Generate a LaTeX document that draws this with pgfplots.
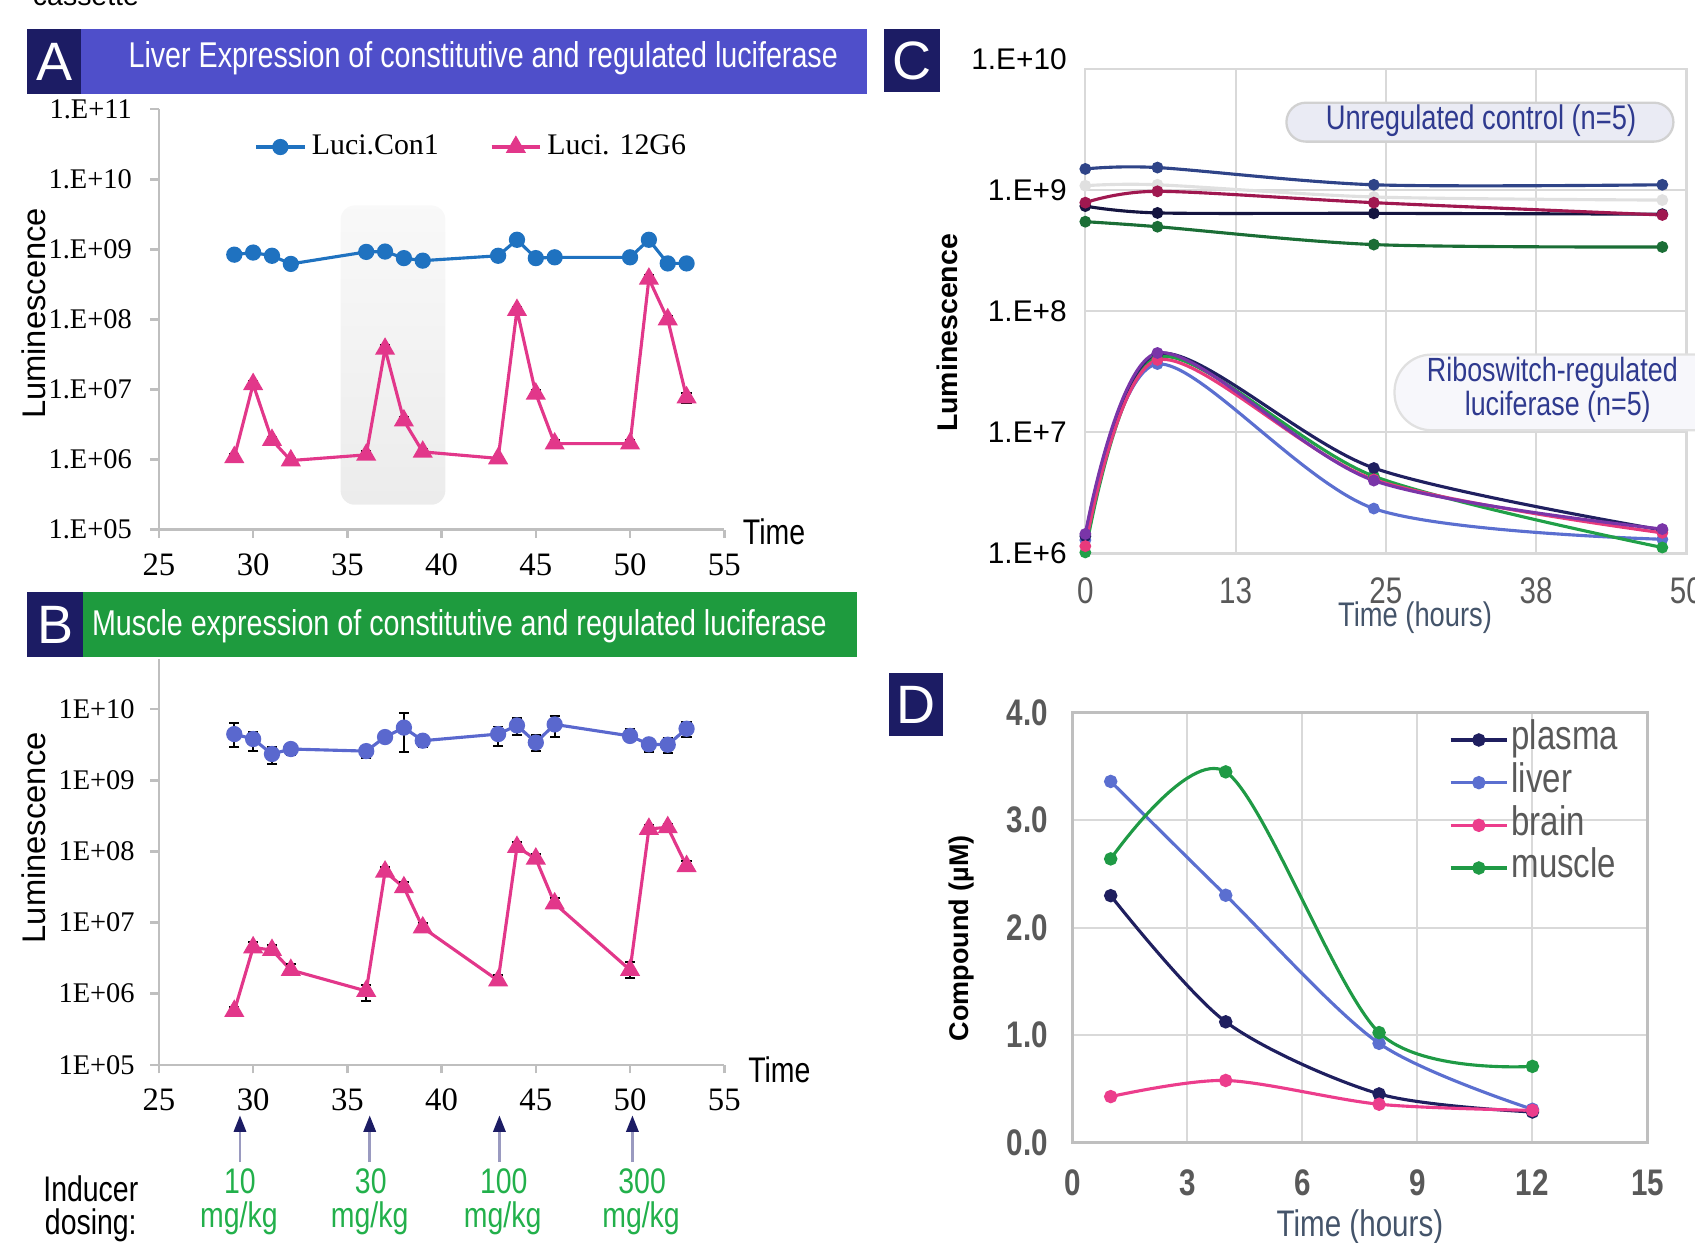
\documentclass[border=0pt]{standalone}
\usepackage{fontspec}
\setmainfont{Liberation Sans}
\newfontfamily\serif{Liberation Serif}
\newfontfamily\narrow[FakeStretch=0.8]{Liberation Sans}
\usepackage{pgfplots}
\pgfplotsset{compat=1.18}
\usepackage{pgfplotstable}

\definecolor{navybox}{HTML}{1C1C64}
\definecolor{hdrblue}{HTML}{4F4FCA}
\definecolor{hdrgreen}{HTML}{1E9B3E}
\definecolor{conblue}{HTML}{1F72C0}
\definecolor{lucpink}{HTML}{E2378A}
\definecolor{bblue}{HTML}{5A68CE}
\definecolor{axgray}{HTML}{BFBFBF}
\definecolor{gridgray}{HTML}{D9D9D9}
\definecolor{tickgray}{HTML}{595959}
\definecolor{titlegray}{HTML}{44546A}
\definecolor{dosegreen}{HTML}{22B04B}
\definecolor{labnavy}{HTML}{2F3A8F}
\definecolor{arrowgray}{HTML}{9A9AC0}
% panel C
\definecolor{cslate}{HTML}{2F4488}
\definecolor{clgray}{HTML}{E0E0E0}
\definecolor{ccrim}{HTML}{A01850}
\definecolor{cdnavy}{HTML}{151540}
\definecolor{cdgreen}{HTML}{1B6E36}
\definecolor{rnavy}{HTML}{202060}
\definecolor{rblue}{HTML}{5B6FD0}
\definecolor{rpink}{HTML}{E83A7C}
\definecolor{rgreen}{HTML}{21A048}
\definecolor{rpurple}{HTML}{7A35A8}
% panel D
\definecolor{dplasma}{HTML}{1F1F5F}
\definecolor{dliver}{HTML}{5B6FD0}
\definecolor{dbrain}{HTML}{EC3D8C}
\definecolor{dmuscle}{HTML}{1F9A45}

\pgfdeclareverticalshading{grayfade}{100bp}{color(0bp)=(black!10); color(100bp)=(white)}

% panel A: x y lo hi
\pgfplotstableread{
x y lo hi
29 8.4e8 7.9e8 8.9e8
30 9.0e8 8.5e8 9.5e8
31 8.1e8 7.6e8 8.6e8
32 6.2e8 5.8e8 6.6e8
36 9.2e8 8.7e8 9.8e8
37 9.3e8 8.7e8 9.9e8
38 7.5e8 7.0e8 8.0e8
39 6.9e8 6.4e8 7.4e8
43 8.1e8 7.6e8 8.6e8
44 1.37e9 1.26e9 1.48e9
45 7.5e8 7.0e8 8.0e8
46 7.7e8 7.2e8 8.2e8
50 7.7e8 7.2e8 8.2e8
51 1.37e9 1.26e9 1.48e9
52 6.3e8 5.8e8 6.8e8
53 6.3e8 5.7e8 6.9e8
}\Ablue
\pgfplotstableread{
x y lo hi
29 1.08e6 9.5e5 1.21e6
30 1.19e7 1.05e7 1.33e7
31 1.9e6 1.67e6 2.13e6
32 9.7e5 8.7e5 1.07e6
36 1.17e6 1.03e6 1.31e6
37 3.8e7 3.35e7 4.25e7
38 3.6e6 3.17e6 4.03e6
39 1.29e6 1.14e6 1.44e6
43 1.04e6 9.4e5 1.14e6
44 1.36e8 1.2e8 1.52e8
45 8.7e6 7.7e6 9.7e6
46 1.69e6 1.49e6 1.89e6
50 1.69e6 1.49e6 1.89e6
51 3.8e8 3.35e8 4.25e8
52 1.0e8 8.8e7 1.12e8
53 7.7e6 6.5e6 8.9e6
}\Apink
% panel B: x y lo hi
\pgfplotstableread{
x y lo hi
29 4.46e9 2.95e9 6.37e9
30 3.8e9 2.58e9 4.84e9
31 2.34e9 1.71e9 2.95e9
32 2.75e9 2.24e9 3.16e9
36 2.57e9 2.04e9 2.99e9
37 4.05e9 3.67e9 4.46e9
38 5.5e9 2.51e9 8.84e9
39 3.6e9 2.95e9 4.2e9
43 4.46e9 3.08e9 5.7e9
44 5.9e9 4.33e9 7.5e9
45 3.39e9 2.58e9 4.33e9
46 6.1e9 4.05e9 8.04e9
50 4.2e9 3.53e9 5.3e9
51 3.2e9 2.51e9 3.8e9
52 3.16e9 2.4e9 3.88e9
53 5.3e9 4.05e9 6.53e9
}\Bblue
\pgfplotstableread{
x y lo hi
29 5.7e5 5.0e5 6.6e5
30 4.46e6 3.9e6 5.4e6
31 4.1e6 3.6e6 4.9e6
32 2.15e6 1.9e6 2.6e6
36 1.09e6 7.9e5 1.33e6
37 5.18e7 4.6e7 6.1e7
38 3.12e7 2.7e7 3.7e7
39 8.5e6 7.5e6 1.0e7
43 1.53e6 1.35e6 1.85e6
44 1.15e8 1.0e8 1.35e8
45 7.9e7 7.0e7 9.2e7
46 1.85e7 1.6e7 2.2e7
50 2.15e6 1.64e6 2.83e6
51 2.07e8 1.85e8 2.35e8
52 2.18e8 1.95e8 2.45e8
53 6.2e7 5.5e7 7.3e7
}\Bpink

\begin{document}
\begin{tikzpicture}
\useasboundingbox (0,0) rectangle (595.84pt,-436.62pt);
\begin{scope}[x=0.38pt, y=-0.38pt]
\node[anchor=base west, font=\fontsize{10}{12}\selectfont, inner sep=0] at (30,5) {cassette};
% headers
\fill[hdrblue] (75,27) rectangle (802,87);
\fill[navybox] (25,27) rectangle (75,87);
\node[white, font=\fontsize{19}{22}\selectfont] at (50,57) {A};
\node[white, font=\narrow\fontsize{12.6}{15}\selectfont] at (447,54) {Liver Expression of constitutive and regulated luciferase};
\fill[hdrgreen] (77,548) rectangle (793,608);
\fill[navybox] (25,548) rectangle (77,608);
\node[white, font=\fontsize{19}{22}\selectfont] at (51,578) {B};
\node[white, font=\narrow\fontsize{12.6}{15}\selectfont] at (425,579) {Muscle expression of constitutive and regulated luciferase};
\fill[navybox] (818,27) rectangle (870,85);
\node[white, font=\fontsize{19}{22}\selectfont] at (844,56) {C};
\fill[navybox] (822,623) rectangle (872,681);
\node[white, font=\fontsize{19}{22}\selectfont] at (847,652) {D};
% axis titles
\node[rotate=90, font=\fontsize{11.5}{13}\selectfont] at (31,290) {Luminescence};
\node[rotate=90, font=\fontsize{11.5}{13}\selectfont] at (31,775) {Luminescence};
\node[font=\narrow\fontsize{12.5}{14}\selectfont] at (716,492) {Time};
\node[font=\narrow\fontsize{12.5}{14}\selectfont] at (721,990) {Time};
\node[rotate=90, font=\bfseries\fontsize{10}{12}\selectfont] at (876,308) {Luminescence};
\node[font=\narrow\fontsize{12}{14}\selectfont, text=titlegray] at (1309,571) {Time (hours)};
\node[rotate=90, font=\bfseries\fontsize{9.5}{12}\selectfont] at (889,868) {Compound (µM)};
\node[font=\narrow\fontsize{13}{15}\selectfont, text=titlegray] at (1258,1135) {Time (hours)};
% dosing
\node[font=\narrow\fontsize{12.5}{14}\selectfont] at (84,1100) {Inducer};
\node[font=\narrow\fontsize{12.5}{14}\selectfont] at (84,1133) {dosing:};
\foreach \ax/\lx/\dose in {222/222/10, 342/343/30, 462/466/100, 585/594/300}{
  \draw[arrowgray, line width=1pt] (\ax,1075) -- (\ax,1044);
  \fill[navybox] (\ax,1032) -- (\ax-6,1047) -- (\ax+6,1047) -- cycle;
  \node[text=dosegreen, font=\narrow\fontsize{12.5}{14}\selectfont] at (\lx,1093) {\dose};
  \node[text=dosegreen, font=\narrow\fontsize{12.5}{14}\selectfont] at (\lx-1,1127) {mg/kg};
}
\end{scope}

% ---------------- A
\begin{axis}[at={(55.86pt,-186.2pt)}, anchor=south west,
  scale only axis, width=198.74pt, height=147.82pt,
  xmin=25, xmax=55, xtick={25,30,...,55},
  ymode=log, ymin=1e5, ymax=1e11, ytick={1e5,1e6,1e7,1e8,1e9,1e10,1e11},
  yticklabels={1.E+05,1.E+06,1.E+07,1.E+08,1.E+09,1.E+10,1.E+11},
  axis x line*=bottom, axis y line*=left,
  axis line style={axgray, line width=0.9pt},
  tick align=outside, major tick length=3pt, minor tick length=0pt,
  tick style={axgray, line width=0.9pt},
  yticklabel style={font=\serif\fontsize{10}{12}\selectfont, text=black, xshift=-3pt},
  xticklabel style={text=black, yshift=-2pt},
  xticklabel={\serif\fontsize{11.5}{13}\selectfont\pgfmathprintnumber[assume math mode=true]{\tick}},
  clip=false,
  legend columns=2,
  legend style={draw=none, fill=none, at={(0.153,0.91)}, anchor=west,
    font=\serif\fontsize{10.5}{12}\selectfont,
    /tikz/every even column/.append style={column sep=16pt}},
]
\shade[rounded corners=5pt, shading=grayfade]
  (axis cs:34.64,2.27e5) rectangle (axis cs:40.2,4.24e9);
\addplot[forget plot, draw=none, mark=none,
  error bars/y dir=both, error bars/y explicit,
  error bars/error bar style={black, line width=0.7pt},
  error bars/error mark options={rotate=90, mark size=1.8pt, black, line width=0.7pt}]
  table[x=x, y=y, y error plus expr=\thisrow{hi}-\thisrow{y},
        y error minus expr=\thisrow{y}-\thisrow{lo}] {\Ablue};
\addplot[forget plot, draw=none, mark=none,
  error bars/y dir=both, error bars/y explicit,
  error bars/error bar style={black, line width=0.7pt},
  error bars/error mark options={rotate=90, mark size=1.8pt, black, line width=0.7pt}]
  table[x=x, y=y, y error plus expr=\thisrow{hi}-\thisrow{y},
        y error minus expr=\thisrow{y}-\thisrow{lo}] {\Apink};
\addplot[conblue, line width=1.1pt, mark=*, mark size=2.3pt] table[x=x, y=y] {\Ablue};
\addplot[lucpink, line width=1.1pt, mark=triangle*, mark size=3pt] table[x=x, y=y] {\Apink};
\legend{Luci.Con1, Luci. 12G6}
\end{axis}

% ---------------- B
\begin{axis}[at={(55.86pt,-374.3pt)}, anchor=south west,
  scale only axis, width=198.74pt, height=142.5pt,
  xmin=25, xmax=55, xtick={25,30,...,55},
  ymode=log, ymin=1e5, ymax=5e10, ytick={1e5,1e6,1e7,1e8,1e9,1e10},
  yticklabels={1E+05,1E+06,1E+07,1E+08,1E+09,1E+10},
  axis x line*=bottom, axis y line*=left,
  axis line style={axgray, line width=0.9pt},
  tick align=outside, major tick length=3pt, minor tick length=0pt,
  tick style={axgray, line width=0.9pt},
  yticklabel style={font=\serif\fontsize{10}{12}\selectfont, text=black, xshift=-2pt},
  xticklabel style={text=black, yshift=-2pt},
  xticklabel={\serif\fontsize{11.5}{13}\selectfont\pgfmathprintnumber[assume math mode=true]{\tick}},
  clip=false,
]
\addplot[bblue, line width=1.1pt, mark=*, mark size=2.3pt,
  error bars/y dir=both, error bars/y explicit,
  error bars/error bar style={black, line width=0.7pt},
  error bars/error mark options={rotate=90, mark size=1.8pt, black, line width=0.7pt}]
  table[x=x, y=y, y error plus expr=\thisrow{hi}-\thisrow{y},
        y error minus expr=\thisrow{y}-\thisrow{lo}] {\Bblue};
\addplot[lucpink, line width=1.1pt, mark=triangle*, mark size=3pt,
  error bars/y dir=both, error bars/y explicit,
  error bars/error bar style={black, line width=0.7pt},
  error bars/error mark options={rotate=90, mark size=1.8pt, black, line width=0.7pt}]
  table[x=x, y=y, y error plus expr=\thisrow{hi}-\thisrow{y},
        y error minus expr=\thisrow{y}-\thisrow{lo}] {\Bpink};
\end{axis}

% ---------------- C
\begin{axis}[at={(381.52pt,-194.56pt)}, anchor=south west, scale only axis,
  width=211.28pt, height=170.24pt,
  xmin=0, xmax=50, xtick={0,12.5,25,37.5,50}, xticklabels={0,13,25,38,50},
  ymode=log, ymin=1e6, ymax=1e10, minor tick length=0pt,
  ytick={1e6,1e7,1e8,1e9,1e10},
  yticklabels={1.E+6,1.E+7,1.E+8,1.E+9,\raisebox{7pt}{1.E+10}},
  grid=major, grid style={gridgray, line width=0.7pt},
  axis line style={gridgray, line width=0.8pt}, major tick length=0pt,
  yticklabel style={font=\fontsize{10.5}{12}\selectfont, xshift=-3pt},
  xticklabel style={font=\narrow\fontsize{13}{15}\selectfont, text=tickgray, yshift=-5pt},
  clip=false,
]
\addplot[smooth, tension=0.5, line width=1.1pt, mark=*, mark size=1.5pt, clgray] coordinates {(0,1.09e9) (6,1.11e9) (24,8.8e8) (48,8.3e8)};
\addplot[smooth, tension=0.5, line width=1.1pt, mark=*, mark size=1.5pt, cdgreen] coordinates {(0,5.5e8) (6,5.0e8) (24,3.56e8) (48,3.4e8)};
\addplot[smooth, tension=0.5, line width=1.1pt, mark=*, mark size=1.5pt, cdnavy] coordinates {(0,7.4e8) (6,6.5e8) (24,6.45e8) (48,6.35e8)};
\addplot[smooth, tension=0.5, line width=1.1pt, mark=*, mark size=1.5pt, ccrim] coordinates {(0,7.9e8) (6,9.8e8) (24,7.9e8) (48,6.25e8)};
\addplot[smooth, tension=0.5, line width=1.1pt, mark=*, mark size=1.5pt, cslate] coordinates {(0,1.50e9) (6,1.54e9) (24,1.11e9) (48,1.11e9)};
\addplot[smooth, tension=0.5, line width=1.1pt, mark=*, mark size=1.5pt, rblue] coordinates {(0,1.29e6) (6,3.67e7) (24,2.35e6) (48,1.31e6)};
\addplot[smooth, tension=0.5, line width=1.1pt, mark=*, mark size=1.5pt, rgreen] coordinates {(0,1.02e6) (6,4.19e7) (24,4.35e6) (48,1.12e6)};
\addplot[smooth, tension=0.5, line width=1.1pt, mark=*, mark size=1.5pt, rnavy] coordinates {(0,1.39e6) (6,4.46e7) (24,5.08e6) (48,1.56e6)};
\addplot[smooth, tension=0.5, line width=1.1pt, mark=*, mark size=1.5pt, rpink] coordinates {(0,1.15e6) (6,3.97e7) (24,4.09e6) (48,1.48e6)};
\addplot[smooth, tension=0.5, line width=1.1pt, mark=*, mark size=1.5pt, rpurple] coordinates {(0,1.45e6) (6,4.53e7) (24,4.0e6) (48,1.59e6)};
\end{axis}

% ---------------- D
\begin{axis}[at={(376.96pt,-401.66pt)}, anchor=south west, scale only axis,
  width=202.16pt, height=151.24pt,
  xmin=0, xmax=15, xtick={0,3,...,15}, ymin=0, ymax=4, ytick={0,1,2,3,4},
  grid=major, grid style={gridgray, line width=0.7pt},
  axis line style={axgray, line width=0.8pt}, major tick length=0pt,
  tick label style={font=\narrow\bfseries\fontsize{13}{15}\selectfont, text=tickgray},
  xticklabel={\pgfmathprintnumber[assume math mode=true]{\tick}},
  yticklabel={\pgfmathprintnumber[assume math mode=true, fixed, fixed zerofill, precision=1]{\tick}},
  yticklabel style={xshift=-5pt},
  xticklabel style={yshift=-6pt},
  legend cell align=left,
  legend style={draw=none, fill=none, at={(0.639,1.0)}, anchor=north west,
    font=\narrow\fontsize{14.5}{15}\selectfont, text=tickgray, row sep=0pt,
    nodes={inner sep=1pt, text height=10pt, text depth=3pt}},
  legend image code/.code={\draw[mark repeat=2, mark phase=2, #1]
    plot coordinates {(0cm,0cm) (0.35cm,0cm) (0.7cm,0cm)};},
  clip=false,
]
\addplot[smooth, tension=0.5, dplasma, line width=1.1pt, mark=*, mark size=1.8pt]
  coordinates {(1,2.296) (4,1.123) (8,0.453) (12,0.285)};
\addplot[smooth, tension=0.5, dliver, line width=1.1pt, mark=*, mark size=1.8pt]
  coordinates {(1,3.358) (4,2.30) (8,0.923) (12,0.310)};
\addplot[smooth, tension=0.5, dbrain, line width=1.1pt, mark=*, mark size=1.8pt]
  coordinates {(1,0.428) (4,0.578) (8,0.357) (12,0.300)};
\addplot[smooth, tension=0.5, dmuscle, line width=1.1pt, mark=*, mark size=1.8pt]
  coordinates {(1,2.638) (4,3.447) (8,1.023) (12,0.709)};
\legend{plasma, liver, brain, muscle}
\end{axis}

% C annotation boxes
\begin{scope}[x=0.38pt, y=-0.38pt]
\draw[draw=black!18, fill=labnavy!10, rounded corners=6.8pt, line width=0.8pt] (1190,95) rectangle (1548,131);
\node[text=labnavy, font=\narrow\fontsize{12}{14}\selectfont] at (1370,112) {Unregulated control (n=5)};
\draw[draw=black!12, fill=labnavy!4, rounded corners=13pt, line width=0.8pt] (1290,328) rectangle (1610,398);
\node[text=labnavy, font=\narrow\fontsize{11.8}{14}\selectfont] at (1436,345) {Riboswitch-regulated};
\node[text=labnavy, font=\narrow\fontsize{11.8}{14}\selectfont] at (1441,376) {luciferase (n=5)};
\end{scope}
\end{tikzpicture}
\end{document}
